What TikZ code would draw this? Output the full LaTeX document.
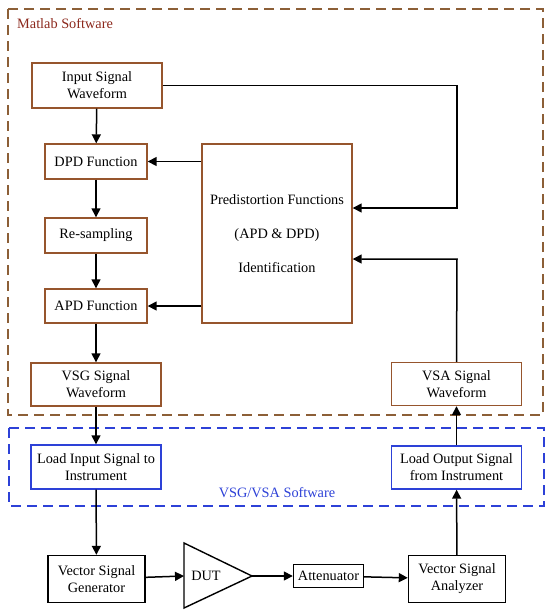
\documentclass[tikz,border=0pt]{standalone}
\usepackage{fontspec}
\setmainfont{Liberation Serif}
\usetikzlibrary{arrows.meta,calc}
\definecolor{mbrown}{RGB}{150,85,45}
\definecolor{mdash}{RGB}{140,95,55}
\definecolor{mtext}{RGB}{140,40,28}
\definecolor{vblue}{RGB}{45,65,215}
\begin{document}
\begin{tikzpicture}[x=1pt,y=-1pt,
  every node/.style={font=\fontsize{14.3}{17}\selectfont, align=center, inner sep=0pt},
  mbox/.style={draw=mbrown, line width=1.4pt, fill=white},
  bbox/.style={draw=vblue, line width=1.4pt, fill=white},
  kbox/.style={draw=black, line width=1.4pt, fill=white},
  arr/.style={line width=1.5pt, -{Triangle[length=9pt,width=9pt]}},
  ln/.style={line width=1.5pt}]
\useasboundingbox (0,0) rectangle (550,614);
% group frames
\draw[mdash, line width=1.6pt, dash pattern=on 10pt off 6pt] (8,9) rectangle (543,415);
\draw[vblue, line width=1.6pt, dash pattern=on 10pt off 6pt] (9,428) rectangle (544,506);
\node[anchor=west, text=mtext] (mlab) at (17,24) {Matlab Software};
\node[text=vblue] (vsw) at (277,493) {VSG/VSA Software};
% matlab boxes
\node[mbox, minimum width=130pt, minimum height=45pt] (inp) at (97,85.5) {Input Signal\\Waveform};
\node[mbox, minimum width=102pt, minimum height=35pt] (dpd) at (96,161.5) {DPD Function};
\node[mbox, minimum width=102pt, minimum height=35pt] (res) at (96,235.5) {Re-sampling};
\node[mbox, minimum width=102pt, minimum height=34pt] (apd) at (96,306) {APD Function};
\node[mbox, minimum width=150pt, minimum height=179pt, font=\fontsize{14.3}{34}\selectfont] (pre) at (277,233.5) {Predistortion Functions\\(APD \& DPD)\\Identification};
\node[mbox, minimum width=130pt, minimum height=43pt] (vsg) at (96,384.5) {VSG Signal\\Waveform};
\node[mbox, minimum width=130pt, minimum height=43pt] (vsa) at (456.5,384) {VSA Signal\\Waveform};
% software boxes
\node[bbox, minimum width=130pt, minimum height=44pt] (lin) at (96,467) {Load Input Signal to\\Instrument};
\node[bbox, minimum width=130pt, minimum height=43pt] (lout) at (456.5,467.5) {Load Output Signal\\from Instrument};
% hardware
\node[kbox, minimum width=97pt, minimum height=47pt] (gen) at (96.5,579) {Vector Signal\\Generator};
\coordinate (dutL) at (184,576);
\coordinate (dutR) at (252,576);
\draw[line width=1.4pt] (184,543) -- (dutR) -- (184,608) -- cycle;
\node (dut) at (206,576) {DUT};
\node[kbox, minimum width=70pt, minimum height=23pt] (att) at (328.5,576) {Attenuator};
\node[kbox, minimum width=97pt, minimum height=47pt] (ana) at (457,579) {Vector Signal\\Analyzer};
% connectors
\coordinate (c1) at (457,208);
\coordinate (c2) at (457,259);
\draw[arr] (inp) -- (dpd);
\draw[arr] (dpd) -- (res);
\draw[arr] (res) -- (apd);
\draw[arr] (apd) -- (vsg);
\draw[arr] (vsg) -- (lin);
\draw[arr] (lin) -- (gen);
\draw[arr] (pre.west |- dpd.east) -- (dpd.east);
\draw[arr] (pre.west |- apd.east) -- (apd.east);
\draw[arr] (inp.east) -| (c1) -- (pre.east |- c1);
\draw[arr] (vsa.north) -- (c2) -- (pre.east |- c2);
\draw[arr] (lout) -- (vsa);
\draw[arr] (ana) -- (lout);
\draw[arr] (gen) -- (dutL);
\draw[arr] (dutR) -- (att);
\draw[arr] (att) -- (ana);
\end{tikzpicture}
\end{document}
